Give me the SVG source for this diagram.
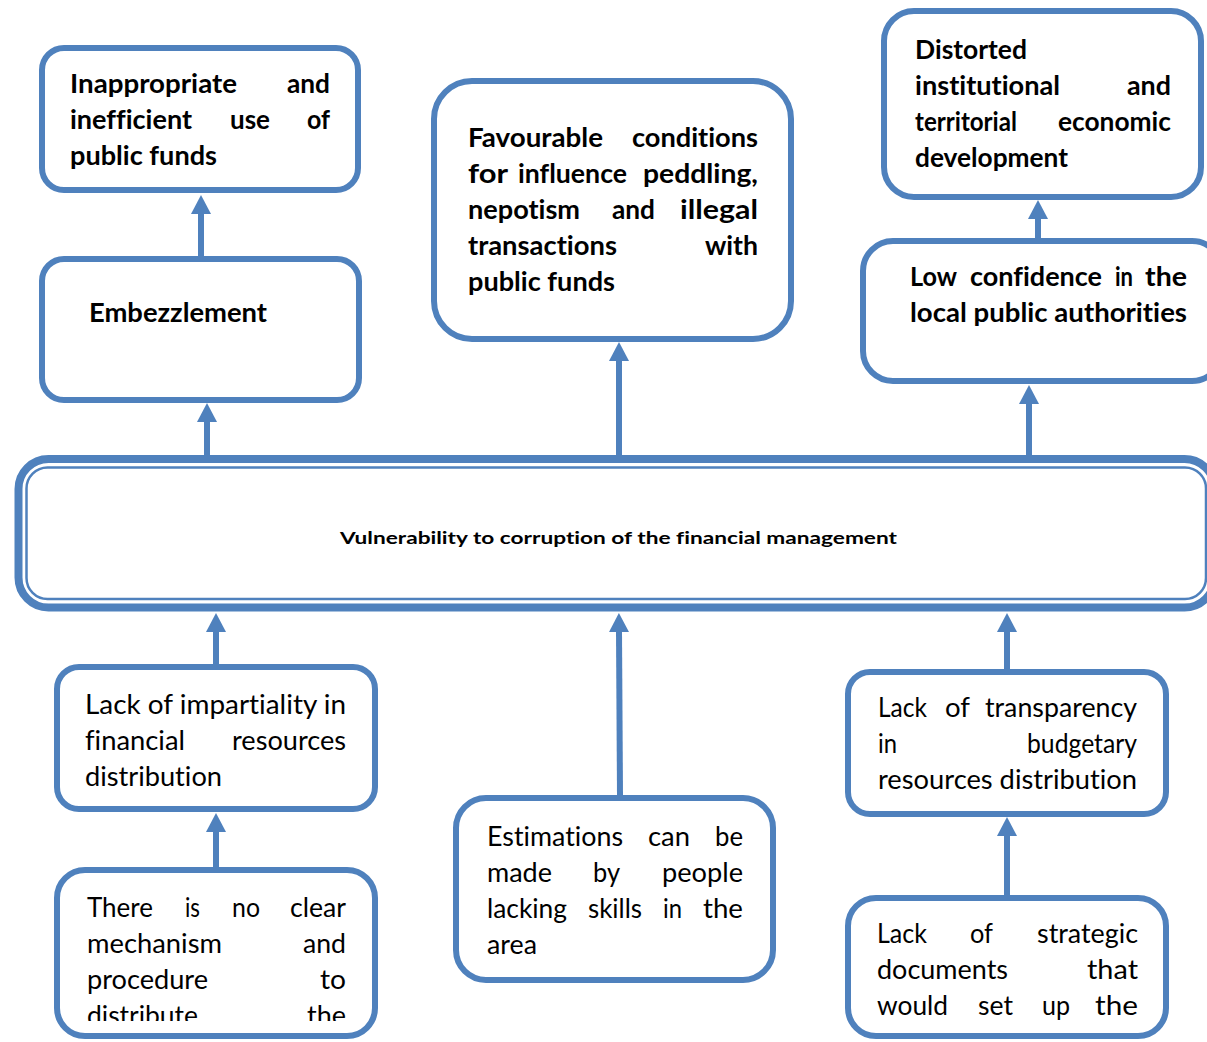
<svg xmlns="http://www.w3.org/2000/svg" width="1207" height="1042" viewBox="0 0 1207 1042">
  <style>
    .box { fill: #ffffff; stroke: #4f81bd; stroke-width: 6; }
    .wire { stroke: #4f81bd; stroke-width: 6; fill: none; marker-end: url(#head); }
    text { font-family: Lato, "Liberation Sans", sans-serif; fill: #000000; font-variant-ligatures: none; }
    .b { font-size: 27px; font-weight: bold; }
    .r { font-size: 27px; }
    .c { font-size: 17px; font-weight: bold; }
  </style>
  <defs>
    <marker id="head" viewBox="0 0 19 20" markerWidth="19" markerHeight="20" refX="1" refY="10" orient="auto" markerUnits="userSpaceOnUse">
      <path d="M0,0 L19,10 L0,20 z" fill="#4f81bd"/>
    </marker>
    <clipPath id="clip-bottom">
      <rect x="0" y="0" width="1207" height="1021"/>
    </clipPath>
  </defs>

  <!-- connectors -->
  <g id="connectors">
    <line class="wire" x1="201" y1="257" x2="201" y2="213"/>
    <line class="wire" x1="207" y1="456" x2="207" y2="421"/>
    <line class="wire" x1="619" y1="456" x2="619" y2="360"/>
    <line class="wire" x1="1029" y1="456" x2="1029" y2="403"/>
    <line class="wire" x1="1038" y1="238" x2="1038" y2="218"/>
    <line class="wire" x1="216" y1="664" x2="216" y2="631"/>
    <line class="wire" x1="620" y1="796" x2="619" y2="631"/>
    <line class="wire" x1="1007" y1="670" x2="1007" y2="631"/>
    <line class="wire" x1="216" y1="868" x2="216" y2="831"/>
    <line class="wire" x1="1007" y1="896" x2="1007" y2="835"/>
  </g>

  <!-- effect: inappropriate use of funds -->
  <g id="node-inappropriate">
    <rect class="box" x="42" y="48" width="316" height="142" rx="22"/>
    <text class="b" x="70" y="93" textLength="167" lengthAdjust="spacingAndGlyphs">Inappropriate</text>
    <text class="b" x="287" y="93" textLength="43" lengthAdjust="spacingAndGlyphs">and</text>
    <text class="b" x="70" y="129" textLength="122" lengthAdjust="spacingAndGlyphs">inefficient</text>
    <text class="b" x="230" y="129" textLength="40" lengthAdjust="spacingAndGlyphs">use</text>
    <text class="b" x="307" y="129" textLength="23" lengthAdjust="spacingAndGlyphs">of</text>
    <text class="b" x="70" y="165" textLength="147" lengthAdjust="spacingAndGlyphs">public funds</text>
  </g>

  <!-- effect: embezzlement -->
  <g id="node-embezzlement">
    <rect class="box" x="42" y="259" width="317" height="141" rx="22"/>
    <text class="b" x="89" y="322" textLength="178" lengthAdjust="spacingAndGlyphs">Embezzlement</text>
  </g>

  <!-- effect: favourable conditions -->
  <g id="node-favourable">
    <rect class="box" x="434" y="81" width="357" height="258" rx="38"/>
    <text class="b" x="468" y="147" textLength="135" lengthAdjust="spacingAndGlyphs">Favourable</text>
    <text class="b" x="632" y="147" textLength="126" lengthAdjust="spacingAndGlyphs">conditions</text>
    <text class="b" x="468" y="183" textLength="40" lengthAdjust="spacingAndGlyphs">for</text>
    <text class="b" x="518" y="183" textLength="109" lengthAdjust="spacingAndGlyphs">influence</text>
    <text class="b" x="643" y="183" textLength="115" lengthAdjust="spacingAndGlyphs">peddling,</text>
    <text class="b" x="468" y="219" textLength="112" lengthAdjust="spacingAndGlyphs">nepotism</text>
    <text class="b" x="612" y="219" textLength="43" lengthAdjust="spacingAndGlyphs">and</text>
    <text class="b" x="680" y="219" textLength="78" lengthAdjust="spacingAndGlyphs">illegal</text>
    <text class="b" x="468" y="255" textLength="149" lengthAdjust="spacingAndGlyphs">transactions</text>
    <text class="b" x="705" y="255" textLength="53" lengthAdjust="spacingAndGlyphs">with</text>
    <text class="b" x="468" y="291" textLength="147" lengthAdjust="spacingAndGlyphs">public funds</text>
  </g>

  <!-- effect: distorted development -->
  <g id="node-distorted">
    <rect class="box" x="884" y="11" width="317" height="186" rx="30"/>
    <text class="b" x="915" y="59" textLength="112" lengthAdjust="spacingAndGlyphs">Distorted</text>
    <text class="b" x="915" y="95" textLength="145" lengthAdjust="spacingAndGlyphs">institutional</text>
    <text class="b" x="1127" y="95" textLength="44" lengthAdjust="spacingAndGlyphs">and</text>
    <text class="b" x="915" y="131" textLength="102" lengthAdjust="spacingAndGlyphs">territorial</text>
    <text class="b" x="1058" y="131" textLength="113" lengthAdjust="spacingAndGlyphs">economic</text>
    <text class="b" x="915" y="167" textLength="153" lengthAdjust="spacingAndGlyphs">development</text>
  </g>

  <!-- effect: low confidence -->
  <g id="node-confidence">
    <rect class="box" x="863" y="241" width="359" height="140" rx="30"/>
    <text class="b" x="910" y="286" textLength="47" lengthAdjust="spacingAndGlyphs">Low</text>
    <text class="b" x="970" y="286" textLength="132" lengthAdjust="spacingAndGlyphs">confidence</text>
    <text class="b" x="1115" y="286" textLength="18" lengthAdjust="spacingAndGlyphs">in</text>
    <text class="b" x="1145" y="286" textLength="42" lengthAdjust="spacingAndGlyphs">the</text>
    <text class="b" x="910" y="322" textLength="277" lengthAdjust="spacingAndGlyphs">local public authorities</text>
  </g>

  <!-- core problem, thick-thin double border -->
  <g id="node-vulnerability">
    <rect x="18.5" y="459" width="1196" height="148.5" rx="30" fill="#ffffff" stroke="#4f81bd" stroke-width="8"/>
    <rect x="26.5" y="467.5" width="1179.5" height="131.5" rx="21" fill="none" stroke="#4f81bd" stroke-width="2.5"/>
    <text class="c" x="340" y="544" textLength="557" lengthAdjust="spacingAndGlyphs">Vulnerability to corruption of the financial management</text>
  </g>

  <!-- cause: lack of impartiality -->
  <g id="node-impartiality">
    <rect class="box" x="57" y="667" width="318" height="142" rx="22"/>
    <text class="r" x="85" y="714" textLength="261" lengthAdjust="spacingAndGlyphs">Lack of impartiality in</text>
    <text class="r" x="85" y="750" textLength="100" lengthAdjust="spacingAndGlyphs">financial</text>
    <text class="r" x="232" y="750" textLength="114" lengthAdjust="spacingAndGlyphs">resources</text>
    <text class="r" x="85" y="786" textLength="137" lengthAdjust="spacingAndGlyphs">distribution</text>
  </g>

  <!-- cause: estimations by unskilled people -->
  <g id="node-estimations">
    <rect class="box" x="456" y="798" width="317" height="182" rx="30"/>
    <text class="r" x="487" y="846" textLength="136" lengthAdjust="spacingAndGlyphs">Estimations</text>
    <text class="r" x="648" y="846" textLength="42" lengthAdjust="spacingAndGlyphs">can</text>
    <text class="r" x="715" y="846" textLength="28" lengthAdjust="spacingAndGlyphs">be</text>
    <text class="r" x="487" y="882" textLength="65" lengthAdjust="spacingAndGlyphs">made</text>
    <text class="r" x="593" y="882" textLength="27" lengthAdjust="spacingAndGlyphs">by</text>
    <text class="r" x="662" y="882" textLength="81" lengthAdjust="spacingAndGlyphs">people</text>
    <text class="r" x="487" y="918" textLength="80" lengthAdjust="spacingAndGlyphs">lacking</text>
    <text class="r" x="588" y="918" textLength="54" lengthAdjust="spacingAndGlyphs">skills</text>
    <text class="r" x="663" y="918" textLength="19" lengthAdjust="spacingAndGlyphs">in</text>
    <text class="r" x="703" y="918" textLength="40" lengthAdjust="spacingAndGlyphs">the</text>
    <text class="r" x="487" y="954" textLength="50" lengthAdjust="spacingAndGlyphs">area</text>
  </g>

  <!-- cause: lack of transparency -->
  <g id="node-transparency">
    <rect class="box" x="848" y="672" width="318" height="142" rx="22"/>
    <text class="r" x="878" y="717" textLength="49" lengthAdjust="spacingAndGlyphs">Lack</text>
    <text class="r" x="945" y="717" textLength="25" lengthAdjust="spacingAndGlyphs">of</text>
    <text class="r" x="985" y="717" textLength="152" lengthAdjust="spacingAndGlyphs">transparency</text>
    <text class="r" x="878" y="753" textLength="19" lengthAdjust="spacingAndGlyphs">in</text>
    <text class="r" x="1027" y="753" textLength="110" lengthAdjust="spacingAndGlyphs">budgetary</text>
    <text class="r" x="878" y="789" textLength="259" lengthAdjust="spacingAndGlyphs">resources distribution</text>
  </g>

  <!-- root cause: no clear mechanism (text runs past the box) -->
  <g id="node-mechanism">
    <rect class="box" x="57" y="870" width="318" height="166" rx="28"/>
    <g clip-path="url(#clip-bottom)">
      <text class="r" x="87" y="917" textLength="66" lengthAdjust="spacingAndGlyphs">There</text>
      <text class="r" x="185" y="917" textLength="15" lengthAdjust="spacingAndGlyphs">is</text>
      <text class="r" x="232" y="917" textLength="28" lengthAdjust="spacingAndGlyphs">no</text>
      <text class="r" x="290" y="917" textLength="56" lengthAdjust="spacingAndGlyphs">clear</text>
      <text class="r" x="87" y="953" textLength="135" lengthAdjust="spacingAndGlyphs">mechanism</text>
      <text class="r" x="303" y="953" textLength="43" lengthAdjust="spacingAndGlyphs">and</text>
      <text class="r" x="87" y="989" textLength="121" lengthAdjust="spacingAndGlyphs">procedure</text>
      <text class="r" x="320" y="989" textLength="26" lengthAdjust="spacingAndGlyphs">to</text>
      <text class="r" x="87" y="1025" textLength="111" lengthAdjust="spacingAndGlyphs">distribute</text>
      <text class="r" x="307" y="1025" textLength="39" lengthAdjust="spacingAndGlyphs">the</text>
    </g>
  </g>

  <!-- root cause: lack of strategic documents -->
  <g id="node-strategic">
    <rect class="box" x="848" y="898" width="318" height="138" rx="28"/>
    <text class="r" x="877" y="943" textLength="50" lengthAdjust="spacingAndGlyphs">Lack</text>
    <text class="r" x="970" y="943" textLength="23" lengthAdjust="spacingAndGlyphs">of</text>
    <text class="r" x="1037" y="943" textLength="101" lengthAdjust="spacingAndGlyphs">strategic</text>
    <text class="r" x="877" y="979" textLength="131" lengthAdjust="spacingAndGlyphs">documents</text>
    <text class="r" x="1087" y="979" textLength="51" lengthAdjust="spacingAndGlyphs">that</text>
    <text class="r" x="877" y="1015" textLength="71" lengthAdjust="spacingAndGlyphs">would</text>
    <text class="r" x="978" y="1015" textLength="35" lengthAdjust="spacingAndGlyphs">set</text>
    <text class="r" x="1042" y="1015" textLength="28" lengthAdjust="spacingAndGlyphs">up</text>
    <text class="r" x="1095" y="1015" textLength="43" lengthAdjust="spacingAndGlyphs">the</text>
  </g>
</svg>
